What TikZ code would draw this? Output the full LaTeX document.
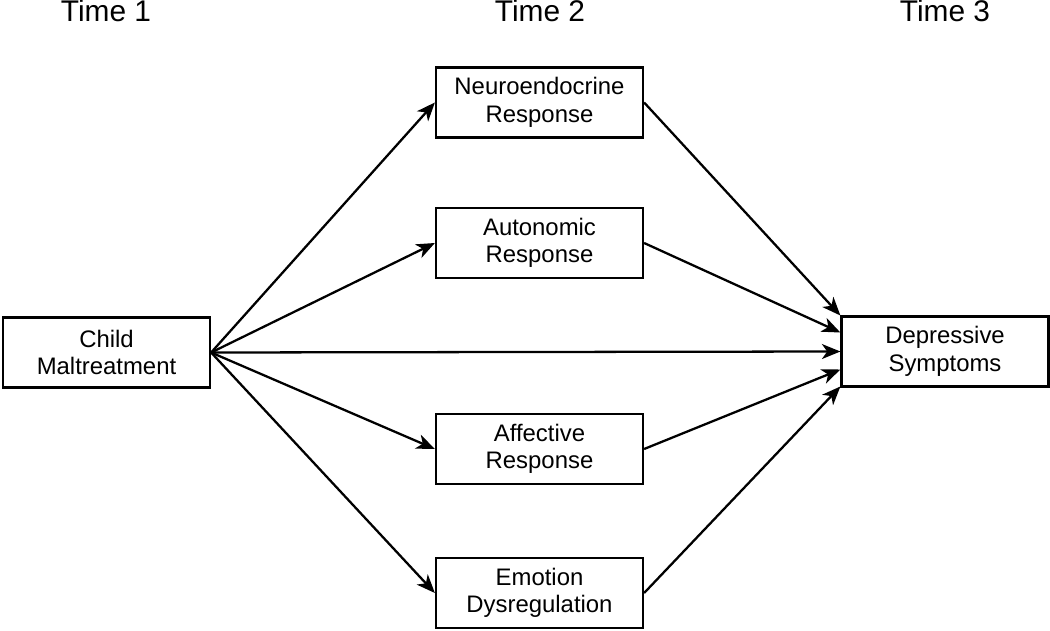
\documentclass[tikz,border=0pt]{standalone}
\usepackage		 {fontspec}
\setmainfont{Liberation Sans}
\usepackage		 {xcolor   }
\usepackage		 {tikz	  }
\usetikzlibrary{shapes,calc,positioning}
\usetikzlibrary	 {arrows.meta}

\begin{document}
\begin{tikzpicture}[x=0.02cm,y=-0.02cm]
  \tikzset{ b/.style={draw,line width=1.3pt,minimum width=4.14cm,minimum height=1.4cm,align=center,inner sep=0pt,font=\fontsize{13.6}{15.6}\selectfont},
            t/.style={font=\fontsize{17}{20}\selectfont,anchor=base},
            a/.style={-{Stealth[length=10.5pt,width=8.5pt,inset=3pt]},line width=1.3pt},
  }
  \useasboundingbox (0,0) rectangle (1050,631);
  \node[t] (t1) at (106, 22) {Time 1};
  \node[t] (t2) at (540, 22) {Time 2};
  \node[t] (t3) at (945, 22) {Time 3};

  \node[b] (child) at (106.5, 352.5) {Child\\Maltreatment};
  \node[b] (neuro) at (539.5, 102.5) {Neuroendocrine\\Response};
  \node[b] (auto) at (539.5, 243) {Autonomic\\Response};
  \node[b] (aff) at (539.5, 449) {Affective\\Response};
  \node[b] (emo) at (539.5, 593) {Emotion\\Dysregulation};
  \node[b] (dep) at (945, 351.5) {Depressive\\Symptoms};

  % the paths from time 1 to time 2
  \draw[a] (child.east) -- (neuro.west);
  \draw[a] (child.east) -- (auto.west);
  \draw[a] (child.east) -- (aff.west);
  \draw[a] (child.east) -- (emo.west);
  % the direct path
  \draw[a] (child.east) -- (dep.west);
  % the paths from time 2 to time 3
  \draw[a] (neuro.east) -- ([yshift=0.72cm]dep.west);
  \draw[a] (auto.east) -- ([yshift=0.38cm]dep.west);
  \draw[a] (aff.east) -- ([yshift=-0.36cm]dep.west);
  \draw[a] (emo.east) -- ([yshift=-0.70cm]dep.west);
\end{tikzpicture}
\end{document}
